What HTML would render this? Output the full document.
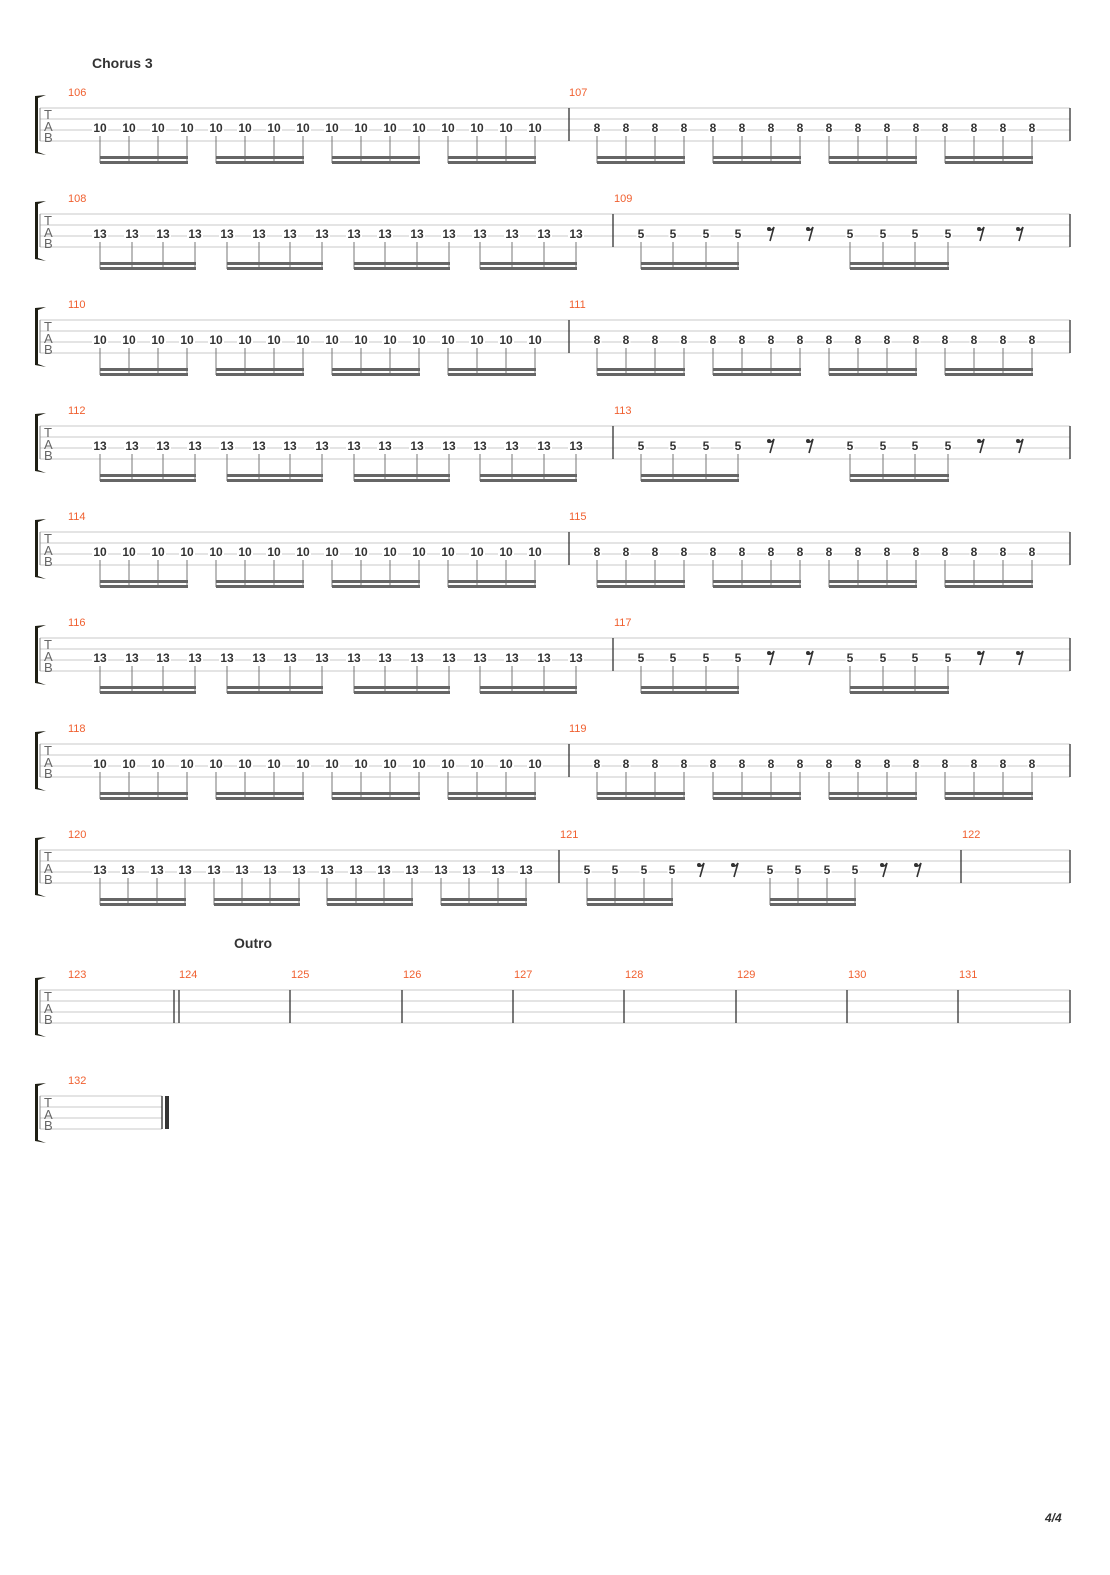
<!DOCTYPE html>
<html><head><meta charset="utf-8">
<style>
html,body{margin:0;padding:0;background:#fff;}
body{width:1110px;height:1570px;overflow:hidden;}
svg text{font-family:"Liberation Sans","DejaVu Sans",sans-serif;}
</style></head>
<body>
<svg id="s" width="1110" height="1570" xmlns="http://www.w3.org/2000/svg"></svg>
<script>
var s=document.getElementById('s');var o='';
function L(x1,y1,x2,y2,c,w){o+='<line x1="'+x1+'" y1="'+y1+'" x2="'+x2+'" y2="'+y2+'" stroke="'+c+'" stroke-width="'+w+'"/>';}
function T(x,y,t,st){o+='<text x="'+x+'" y="'+y+'" '+st+'>'+t+'</text>';}
function staff(y,x2){
  for(var i=0;i<4;i++)L(40,y+i*11,x2,y+i*11,'#c8c8c8',1);
  L(40,y,40,y+33,'#888',1);
  T(44,y+11,'T','font-size="13" fill="#666"');T(44,y+23,'A','font-size="13" fill="#666"');T(44,y+34,'B','font-size="13" fill="#666"');
  o+='<path d="M46 '+(y-13)+' L38 '+(y-10)+' L38 '+(y+44)+' L46 '+(y+47)+' L35 '+(y+45)+' L35 '+(y-12)+' Z" fill="#1e1e14"/>';
}
function bar(x,y){L(x,y,x,y+33,'#333',1.3);}
function mn(x,y,n){T(x,y-12,n,'font-size="11" fill="#f06030"');}
function note(x,y,t){var w=t.length*7+2;o+='<rect x="'+(x-w/2)+'" y="'+(y+15)+'" width="'+w+'" height="9" fill="#fff"/>';T(x,y+24,t,'font-size="12" font-weight="bold" fill="#333" text-anchor="middle"');}
function rest(x,y){o+='<circle cx="'+(x-2)+'" cy="'+(y+15)+'" r="2" fill="#333"/><path d="M'+(x-3)+' '+(y+16)+' Q'+(x+1)+' '+(y+17)+' '+(x+3)+' '+(y+13)+' L'+(x-1)+' '+(y+27)+'" stroke="#333" stroke-width="1.6" fill="none"/>';}
function group(xs,y,t){xs.forEach(function(x){note(x,y,t);L(x,y+28,x,y+55,'#777',1);});
  var a=xs[0],b=xs[xs.length-1];o+='<rect x="'+a+'" y="'+(y+48)+'" width="'+(b-a+1)+'" height="3" fill="#666"/><rect x="'+a+'" y="'+(y+53)+'" width="'+(b-a+1)+'" height="3" fill="#666"/>';}
function seq(st,sp,n){var r=[];for(var i=0;i<n;i++)r.push(Math.round(st+sp*i));return r;}
function sysA(y,m){staff(y,1070);mn(68,y,m);mn(569,y,m+1);bar(569,y);bar(1070,y);
  var a=seq(100,29,16);for(var g=0;g<4;g++)group(a.slice(g*4,g*4+4),y,'10');
  var b=seq(597,29,16);for(var g=0;g<4;g++)group(b.slice(g*4,g*4+4),y,'8');}
function sysB(y,m,x0,sp,bl,fives,rests,end){staff(y,1070);mn(68,y,m);mn(bl+1,y,m+1);bar(bl,y);bar(1070,y);
  var a=seq(x0,sp,16);for(var g=0;g<4;g++)group(a.slice(g*4,g*4+4),y,'13');
  group(fives[0],y,'5');group(fives[1],y,'5');rests.forEach(function(r){rest(r,y);});
  if(end){bar(end,y);mn(end+1,y,m+2);}}
T(92,68,'Chorus 3','font-size="14" font-weight="bold" fill="#333"');
sysA(108,106);
sysB(214,108,100,31.7,613,[[641,673,706,738],[850,883,915,948]],[771,810,981,1020]);
sysA(320,110);
sysB(426,112,100,31.7,613,[[641,673,706,738],[850,883,915,948]],[771,810,981,1020]);
sysA(532,114);
sysB(638,116,100,31.7,613,[[641,673,706,738],[850,883,915,948]],[771,810,981,1020]);
sysA(744,118);
sysB(850,120,100,28.4,559,[[587,615,644,672],[770,798,827,855]],[701,735,884,918],961);
T(234,948,'Outro','font-size="14" font-weight="bold" fill="#333"');
var y=990;staff(y,1070);mn(68,y,123);bar(174,y);bar(179,y);
var bx=[290,402,513,624,736,847,958,1070],nums=[125,126,127,128,129,130,131];
mn(179,y,124);bx.forEach(function(x,i){bar(x,y);if(i<7)mn(x+1,y,nums[i]);});
y=1096;staff(y,162);mn(68,y,132);bar(162,y);o+='<rect x="165" y="'+y+'" width="4" height="33" fill="#333"/>';
T(1045,1522,'4/4','font-size="12" font-style="italic" font-weight="bold" fill="#333"');
s.innerHTML=o;
</script>
</body></html>
